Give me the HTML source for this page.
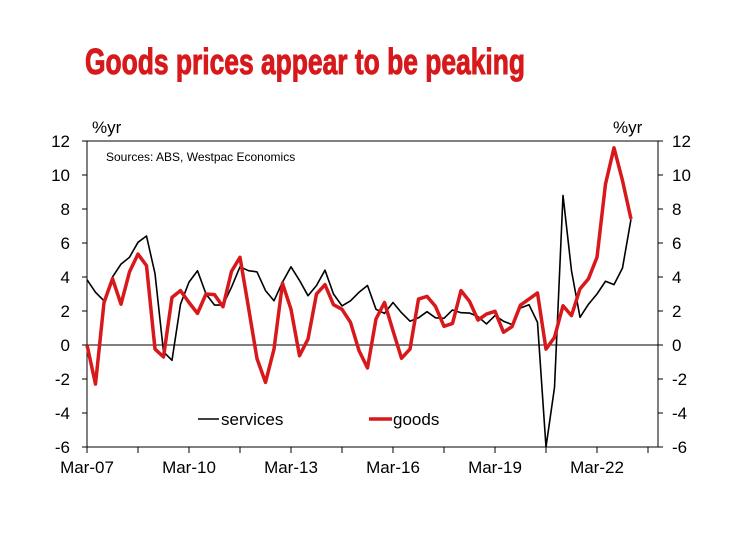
<!DOCTYPE html>
<html><head><meta charset="utf-8"><style>
body{margin:0;background:#fff;}
svg{display:block;font-family:"Liberation Sans",Arial,sans-serif;}
</style></head><body>
<svg id="c" width="740" height="555" xmlns="http://www.w3.org/2000/svg">
<text x="85" y="74" fill="#d7191c" stroke="#d7191c" stroke-width="1" font-family="'Liberation Sans Narrow','Liberation Sans',sans-serif" font-weight="bold" font-size="36" textLength="440" lengthAdjust="spacingAndGlyphs">Goods prices appear to be peaking</text>
<g id="axes"></g>
<g id="series"></g>
<text x="106" y="161" font-size="12">Sources: ABS, Westpac Economics</text>
<text x="92" y="133" font-size="17">%yr</text>
<text x="613" y="133" font-size="17">%yr</text>
<line x1="198" y1="419" x2="219" y2="419" stroke="#000" stroke-width="1.6"/>
<text x="221" y="425" font-size="17">services</text>
<line x1="369" y1="419" x2="392" y2="419" stroke="#d7191c" stroke-width="3.5"/>
<text x="393" y="425" font-size="17">goods</text>
</svg>
<script>
const services=[3.84,3.1,2.6,4.0,4.76,5.16,6.04,6.41,4.2,-0.4,-0.9,2.4,3.7,4.37,3.0,2.35,2.35,3.4,4.6,4.37,4.3,3.2,2.6,3.7,4.6,3.8,2.9,3.5,4.4,3.0,2.3,2.6,3.1,3.5,2.1,1.86,2.5,1.9,1.4,1.6,1.96,1.6,1.57,2.06,1.9,1.88,1.67,1.24,1.73,1.4,1.2,2.18,2.37,1.33,-6.0,-2.5,8.8,4.37,1.63,2.4,3.0,3.75,3.55,4.53,7.4];
const goods=[0,-2.3,2.5,3.9,2.4,4.3,5.35,4.67,-0.24,-0.7,2.8,3.2,2.5,1.86,3.0,2.96,2.25,4.33,5.16,2.2,-0.8,-2.2,-0.24,3.63,2.1,-0.63,0.35,3.0,3.55,2.37,2.1,1.33,-0.33,-1.35,1.53,2.5,0.84,-0.78,-0.24,2.7,2.86,2.27,1.1,1.27,3.2,2.57,1.47,1.82,1.98,0.75,1.08,2.35,2.7,3.06,-0.24,0.45,2.31,1.73,3.3,3.9,5.16,9.47,11.6,9.67,7.41];
const yTicks=[12,10,8,6,4,2,0,-2,-4,-6];
const xLabels=["Mar-07","Mar-10","Mar-13","Mar-16","Mar-19","Mar-22"];
const L=87,R=658,T=141,B=447,Q=8.5;
const y=v=>T+(12-v)*(B-T)/18;
const x=i=>L+i*Q;
const NS="http://www.w3.org/2000/svg";
function mk(p,tag,a){const e=document.createElementNS(NS,tag);for(const k in a)e.setAttribute(k,a[k]);p.appendChild(e);return e;}
const ax=document.getElementById('axes');
let r=mk(ax,'rect',{x:L,y:T,width:R-L,height:B-T,fill:'none',stroke:'#000','stroke-width':1});


let z=mk(ax,'line',{x1:L,x2:R,y1:y(0),y2:y(0),stroke:'#000','stroke-width':1});


yTicks.forEach(v=>{
 mk(ax,'line',{x1:L-5,x2:L,y1:y(v),y2:y(v),stroke:'#000'});
 mk(ax,'line',{x1:R,x2:R+5,y1:y(v),y2:y(v),stroke:'#000'});
 let t=mk(ax,'text',{x:70,y:y(v)+6,'text-anchor':'end','font-size':17});t.textContent=v;
 
 
 let t2=mk(ax,'text',{x:672,y:y(v)+6,'font-size':17});t2.textContent=v;
 
 
});
for(let i=0;i<=66;i+=6){mk(ax,'line',{x1:x(i),x2:x(i),y1:B,y2:B+6,stroke:'#000'});}
xLabels.forEach((s,k)=>{
 let t=mk(ax,'text',{x:x(k*12),y:473,'text-anchor':'middle','font-size':17});t.textContent=s;
 
 
});
const sg=document.getElementById('series');
let p1=mk(sg,'polyline',{points:services.map((v,i)=>x(i)+','+y(v)).join(' '),fill:'none',stroke:'#000','stroke-width':1.6,'stroke-linejoin':'round'});


let p2=mk(sg,'polyline',{points:goods.map((v,i)=>x(i)+','+y(v)).join(' '),fill:'none',stroke:'#d7191c','stroke-width':3.5,'stroke-linejoin':'round'});


</script>
</body></html>
